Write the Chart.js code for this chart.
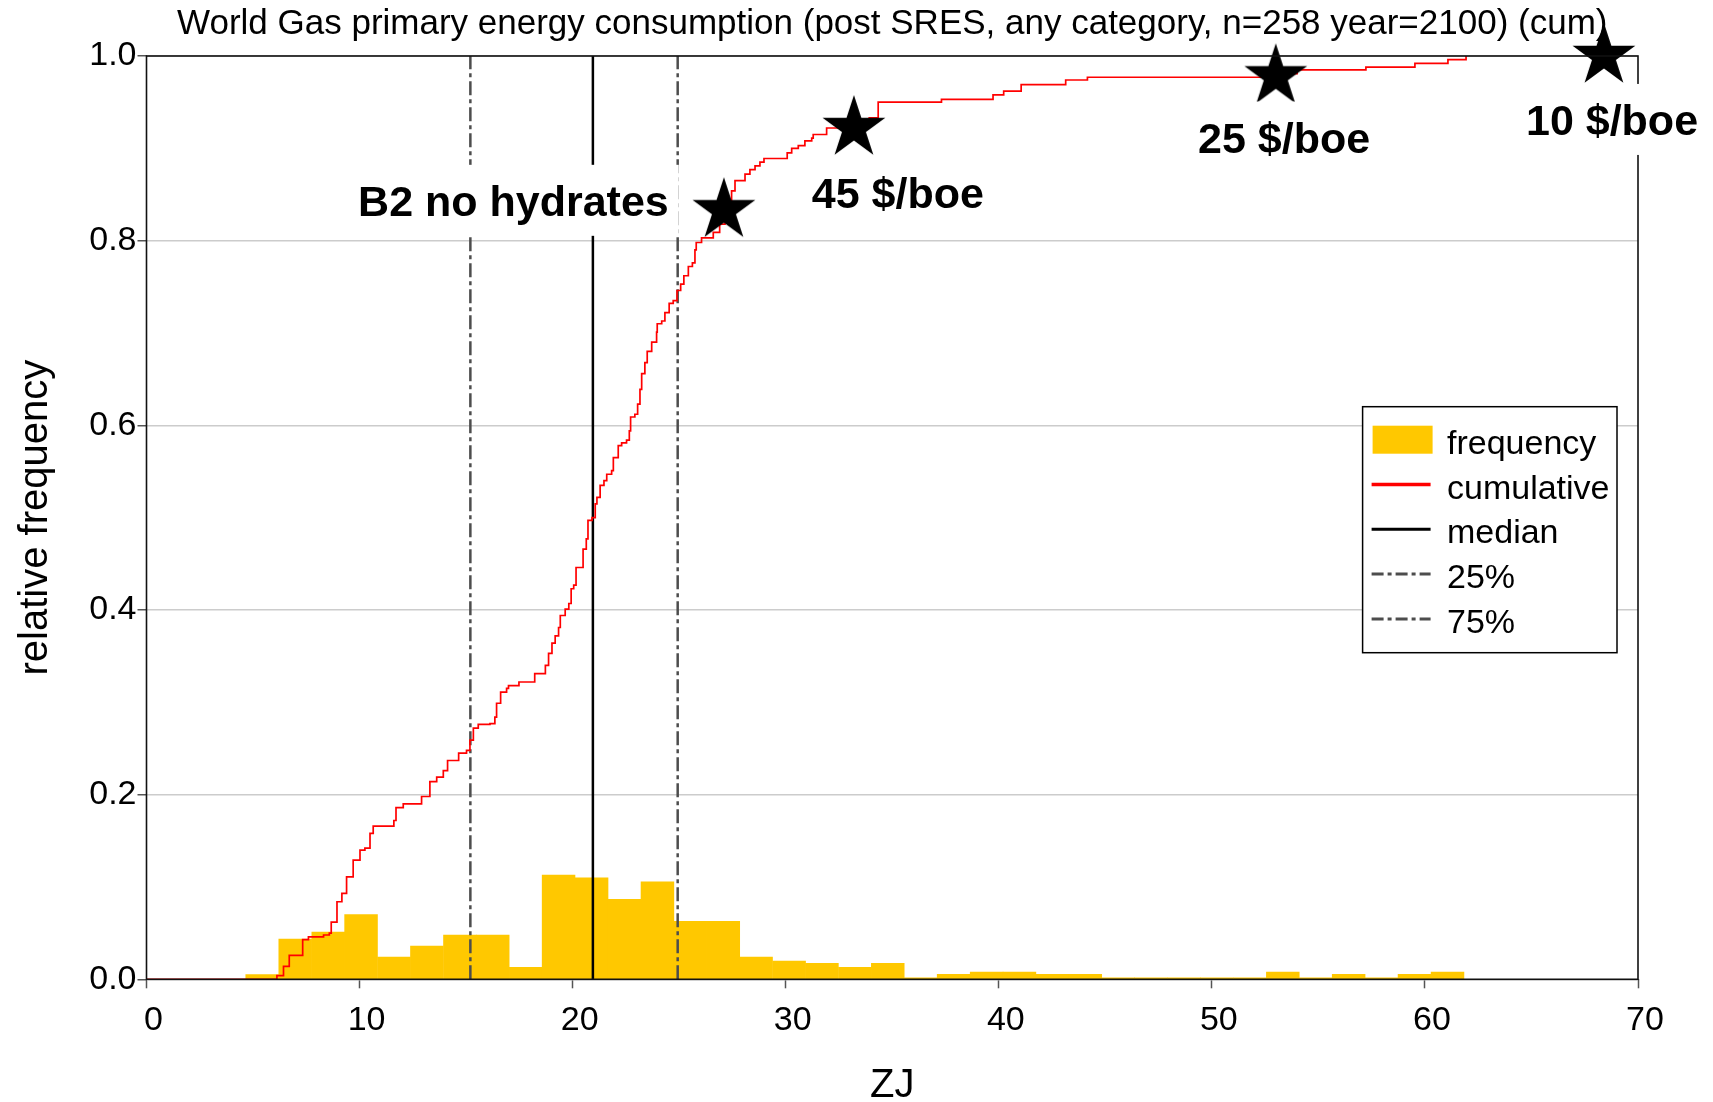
<!DOCTYPE html>
<html>
<head>
<meta charset="utf-8">
<script src="https://cdn.jsdelivr.net/npm/chart.js@4.4.1/dist/chart.umd.min.js"></script>
<style>
    body { margin: 0; background: #fff; }
    #wrap { width: 1713px; height: 1102px; }
</style>
</head>
<body>
<div id="wrap"><canvas id="myChart" width="1713" height="1102"></canvas></div>
<script>
// histogram bins (centres, ZJ) and relative frequency
var binMids = [5.43, 6.98, 8.53, 10.07, 11.62, 13.16, 14.71, 16.25, 17.80, 19.34,
    20.89, 22.43, 23.98, 25.52, 27.07, 28.61, 30.16, 31.70, 33.25, 34.79,
    36.34, 37.88, 39.43, 40.97, 42.52, 44.06, 45.61, 47.15, 48.70, 50.24,
    51.79, 53.33, 54.88, 56.42, 57.97, 59.51, 61.06];
var binFreq = [0.0050, 0.0436, 0.0512, 0.0700, 0.0241, 0.0360, 0.0480, 0.0480, 0.0130, 0.1129,
    0.1100, 0.0866, 0.1057, 0.0628, 0.0628, 0.0241, 0.0198, 0.0173, 0.0130, 0.0173,
    0.0017, 0.0054, 0.0079, 0.0079, 0.0054, 0.0054, 0.0017, 0.0017, 0.0017, 0.0017,
    0.0017, 0.0079, 0.0017, 0.0054, 0.0017, 0.0054, 0.0079];

// cumulative (step curve)
var cumX = [0, 6.12, 6.43, 6.70, 7.33, 7.60, 8.31, 8.58, 8.67, 8.94, 9.17, 9.39, 9.70, 10.02, 10.25,
    10.49, 10.64, 11.61, 11.71, 12.05, 12.91, 13.30, 13.62, 13.93, 14.13, 14.65, 15.02, 15.18, 15.34,
    15.57, 16.12, 16.35, 16.43, 16.62, 16.90, 16.99, 17.48, 18.22, 18.72, 18.87, 19.03, 19.18, 19.34,
    19.42, 19.65, 19.82, 19.93, 20.05, 20.16, 20.49, 20.64, 20.72, 20.91, 21.06, 21.14, 21.29, 21.47,
    21.60, 21.83, 21.91, 22.14, 22.30, 22.53, 22.66, 22.72, 22.92, 23.05, 23.16, 23.24, 23.39, 23.50,
    23.71, 23.94, 23.97, 24.18, 24.33, 24.53, 24.72, 24.90, 25.07, 25.22, 25.43, 25.62, 25.74, 25.80,
    26.05, 26.60, 26.90, 27.15, 27.30, 27.46, 27.62, 28.09, 28.32, 28.56, 28.79, 28.98, 30.07, 30.28,
    30.59, 30.90, 31.22, 31.29, 31.92, 32.80, 33.60, 33.92, 34.34, 37.31, 39.73, 40.23, 41.05, 43.14,
    44.16, 53.00, 54.00, 57.23, 59.53, 61.08, 61.93];
var cumY = [0, 0.004, 0.014, 0.026, 0.043, 0.046, 0.048, 0.050, 0.062, 0.084, 0.093, 0.111, 0.129, 0.140, 0.142,
    0.158, 0.166, 0.172, 0.186, 0.190, 0.198, 0.214, 0.219, 0.226, 0.237, 0.245, 0.248, 0.259, 0.272,
    0.276, 0.277, 0.284, 0.299, 0.311, 0.315, 0.318, 0.322, 0.331, 0.340, 0.353, 0.364, 0.372, 0.381,
    0.394, 0.401, 0.407, 0.423, 0.427, 0.446, 0.466, 0.477, 0.497, 0.500, 0.515, 0.522, 0.535, 0.540,
    0.547, 0.551, 0.565, 0.578, 0.581, 0.584, 0.594, 0.609, 0.612, 0.623, 0.639, 0.656, 0.668, 0.680,
    0.690, 0.701, 0.710, 0.713, 0.722, 0.732, 0.735, 0.746, 0.753, 0.762, 0.772, 0.776, 0.790, 0.798,
    0.803, 0.809, 0.818, 0.828, 0.842, 0.854, 0.865, 0.872, 0.877, 0.881, 0.885, 0.889, 0.895, 0.900,
    0.903, 0.908, 0.911, 0.915, 0.922, 0.926, 0.930, 0.933, 0.950, 0.953, 0.958, 0.962, 0.969, 0.974,
    0.977, 0.981, 0.985, 0.988, 0.992, 0.996, 1.000];

// quartiles
var q25 = 15.2;
var q50 = 20.95;
var q75 = 24.93;

// marked scenarios
var starNames = ["B2 no hydrates", "45 $/boe", "25 $/boe", "10 $/boe"];
var starX = [27.1, 33.2, 53.0, 68.4];
var starY = [0.833, 0.922, 0.978, 1.0];

var xTicks = [0, 10, 20, 30, 40, 50, 60, 70];
var yTicks = [0, 0.2, 0.4, 0.6, 0.8, 1.0];

var FONT = "'Liberation Sans', Arial, Helvetica, sans-serif";
Chart.defaults.font.family = FONT;
Chart.defaults.color = "#000";

// label anchors in data units (x, baseline y)
var labelSpots = [
    { x: 24.51, y: 0.8269, align: "right" },
    { x: 35.26, y: 0.8359, align: "center" },
    { x: 53.39, y: 0.8954, align: "center" },
    { x: 68.78, y: 0.9145, align: "center" }
];

function makeStar(r) {
    var c = document.createElement("canvas");
    var size = Math.ceil(2 * r + 4);
    if (size % 2) size++;
    c.width = size;
    c.height = size;
    var g = c.getContext("2d");
    g.translate(size / 2, size / 2);
    g.beginPath();
    for (var i = 0; i < 10; i++) {
        var rad = i % 2 === 0 ? r : r * 0.382;
        var a = -Math.PI / 2 + i * Math.PI / 5;
        g.lineTo(rad * Math.cos(a), rad * Math.sin(a));
    }
    g.closePath();
    g.fillStyle = "#000";
    g.fill();
    return c;
}
var starImg = makeStar(33);

function vline(v) {
    return [{ x: v, y: 0 }, { x: v, y: 1 }];
}

var decor = {
    id: "decor",
    afterDatasetsDraw(chart) {
        var ctx = chart.ctx;
        var a = chart.chartArea;
        var xs = chart.scales.x, ys = chart.scales.y;

        // frame
        ctx.save();
        ctx.strokeStyle = "#111";
        ctx.lineWidth = 1.6;
        ctx.strokeRect(a.left, a.top, a.right - a.left, a.bottom - a.top);

        // legend box
        var x0 = a.right - 275.4, y0 = a.top + 350.7;
        ctx.fillStyle = "#fff";
        ctx.fillRect(x0, y0, 254.4, 246);
        ctx.strokeStyle = "#000";
        ctx.lineWidth = 1.5;
        ctx.strokeRect(x0, y0, 254.4, 246);
        var rows = [33, 77.8, 122.6, 167.4, 212.2];
        var names = ["frequency", "cumulative", "median", "25%", "75%"];
        ctx.font = "34px " + FONT;
        ctx.textAlign = "left";
        ctx.textBaseline = "alphabetic";
        rows.forEach(function (dy, i) {
            var cy = y0 + dy;
            ctx.save();
            if (i === 0) {
                ctx.fillStyle = "#FFC800";
                ctx.fillRect(x0 + 10, cy - 14, 60, 28);
            } else {
                ctx.beginPath();
                ctx.moveTo(x0 + 9, cy);
                ctx.lineTo(x0 + 68, cy);
                if (i === 1) { ctx.strokeStyle = "#ff0000"; ctx.lineWidth = 3.5; }
                else if (i === 2) { ctx.strokeStyle = "#000"; ctx.lineWidth = 3; }
                else { ctx.strokeStyle = "#4d4d4d"; ctx.lineWidth = 3; ctx.setLineDash([12, 4, 4, 4]); }
                ctx.stroke();
            }
            ctx.restore();
            ctx.fillStyle = "#000";
            ctx.fillText(names[i], x0 + 84.4, cy + 14);
        });

        // scenario labels on white boxes
        ctx.font = "bold 43px " + FONT;
        labelSpots.forEach(function (s, i) {
            var px = xs.getPixelForValue(s.x);
            var py = ys.getPixelForValue(s.y);
            var w = ctx.measureText(starNames[i]).width;
            var left = s.align === "right" ? px - w : px - w / 2;
            ctx.fillStyle = "#fff";
            ctx.fillRect(left - 10, py - 51, w + 20, 71);
            ctx.fillStyle = "#000";
            ctx.textAlign = "left";
            ctx.fillText(starNames[i], left, py);
        });
        ctx.restore();
    }
};

new Chart("myChart", {
    type: "bar",
    data: {
        datasets: [
            {
                type: "bar",
                label: "frequency",
                data: binMids.map(function (m, i) { return { x: m, y: binFreq[i] }; }),
                backgroundColor: "#FFC800",
                borderWidth: 0,
                barPercentage: 1,
                categoryPercentage: 1,
                order: 5
            },
            {
                type: "line",
                label: "25%",
                data: vline(q25),
                borderColor: "#4d4d4d",
                borderWidth: 2.5,
                borderDash: [14, 4, 4, 4],
                pointRadius: 0,
                order: 4
            },
            {
                type: "line",
                label: "75%",
                data: vline(q75),
                borderColor: "#4d4d4d",
                borderWidth: 2.5,
                borderDash: [14, 4, 4, 4],
                pointRadius: 0,
                order: 4
            },
            {
                type: "line",
                label: "median",
                data: vline(q50),
                borderColor: "#000",
                borderWidth: 2.5,
                pointRadius: 0,
                order: 4
            },
            {
                type: "line",
                label: "cumulative",
                data: cumX.map(function (v, i) { return { x: v, y: cumY[i] }; }),
                borderColor: "#ff0000",
                borderWidth: 1.7,
                stepped: true,
                pointRadius: 0,
                order: 2
            },
            {
                type: "scatter",
                label: "scenarios",
                data: starX.map(function (v, i) { return { x: v, y: starY[i] }; }),
                pointStyle: starImg,
                pointRadius: 30,
                clip: false,
                order: 0
            }
        ]
    },
    options: {
        responsive: false,
        animation: false,
        layout: { padding: { left: 0, right: 75, top: 0, bottom: 0 } },
        scales: {
            x: {
                type: "linear",
                min: 0,
                max: 70,
                offset: false,
                afterBuildTicks: function (s) { s.ticks = xTicks.map(function (v) { return { value: v }; }); },
                afterFit: function (s) { s.height = 122.7; },
                ticks: { font: { size: 34 }, color: "#000", padding: 12, labelOffset: 7, maxRotation: 0 },
                grid: { offset: false, drawOnChartArea: false, tickLength: 9, tickColor: "#555", tickWidth: 1.5 },
                border: { display: false },
                title: { display: true, text: "ZJ", font: { size: 40, lineHeight: 0.8 }, padding: 0, color: "#000" }
            },
            y: {
                min: 0,
                max: 1,
                afterBuildTicks: function (s) { s.ticks = yTicks.map(function (v) { return { value: v }; }); },
                afterFit: function (s) { s.width = 146.5; },
                ticks: {
                    font: { size: 34 },
                    color: "#000",
                    padding: 1,
                    callback: function (v) { return Number(v).toFixed(1); }
                },
                grid: { color: "#cccccc", lineWidth: 1.5, tickLength: 9, tickColor: "#555", tickWidth: 1.5 },
                border: { display: false },
                title: { display: true, text: "relative frequency", font: { size: 40 }, padding: { top: 12, bottom: 0 }, color: "#000" }
            }
        },
        plugins: {
            legend: { display: false },
            tooltip: { enabled: false },
            title: {
                display: true,
                text: "World Gas primary energy consumption (post SRES, any category, n=258 year=2100) (cum)",
                font: { size: 35, weight: "normal" },
                color: "#000",
                padding: { top: 3, bottom: 11 },
                fullSize: false
            }
        }
    },
    plugins: [decor]
});
</script>
</body>
</html>
